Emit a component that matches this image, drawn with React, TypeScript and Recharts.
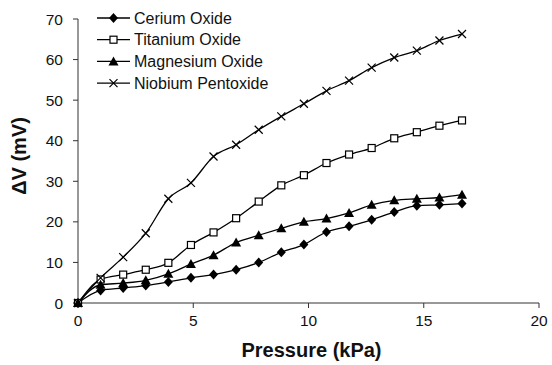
import { LineChart, Line, XAxis, YAxis, Label } from "recharts";

// pressure steps (kPa) and sensor response (mV) per oxide
const pressure = [0, 0.98, 1.96, 2.94, 3.92, 4.9, 5.88, 6.86, 7.84, 8.82, 9.8, 10.78, 11.76, 12.74, 13.72, 14.7, 15.68, 16.66];
const cerium = [0, 3.1, 3.7, 4.3, 5.2, 6.2, 7.0, 8.2, 10.0, 12.5, 14.4, 17.5, 18.9, 20.5, 22.4, 24.0, 24.2, 24.5];
const titanium = [0, 5.8, 7.0, 8.2, 9.9, 14.3, 17.4, 20.9, 25.0, 29.0, 31.5, 34.5, 36.6, 38.2, 40.6, 42.1, 43.7, 45.0];
const magnesium = [0, 4.5, 4.9, 5.6, 7.2, 9.6, 11.8, 14.9, 16.7, 18.4, 20.0, 20.8, 22.2, 24.2, 25.3, 25.7, 26.0, 26.7];
const niobium = [0, 6.2, 11.3, 17.2, 25.7, 29.6, 36.1, 39.0, 42.7, 46.0, 49.1, 52.3, 54.8, 58.0, 60.5, 62.2, 64.7, 66.3];

const seriesNames = ["Cerium Oxide", "Titanium Oxide", "Magnesium Oxide", "Niobium Pentoxide"];
const xTicks = [0, 5, 10, 15, 20];
const yTicks = [0, 10, 20, 30, 40, 50, 60, 70];

const rows = pressure.map((p, i) => ({
  p,
  cerium: cerium[i],
  titanium: titanium[i],
  magnesium: magnesium[i],
  niobium: niobium[i],
}));

const FONT = "'Liberation Sans', Arial, sans-serif";

function Marker({ kind, cx, cy }: { kind: string; cx: number; cy: number }) {
  if (kind === "diamond")
    return <path d={`M${cx},${cy - 5}L${cx + 4.5},${cy}L${cx},${cy + 5}L${cx - 4.5},${cy}Z`} fill="#000" />;
  if (kind === "square")
    return <rect x={cx - 3.5} y={cy - 3.5} width={7} height={7} fill="#fff" stroke="#000" strokeWidth={1.2} />;
  if (kind === "triangle")
    return <path d={`M${cx},${cy - 5}L${cx + 5},${cy + 4}L${cx - 5},${cy + 4}Z`} fill="#000" />;
  return (
    <path
      d={`M${cx - 4},${cy - 4}L${cx + 4},${cy + 4}M${cx - 4},${cy + 4}L${cx + 4},${cy - 4}`}
      stroke="#000"
      strokeWidth={1.2}
      fill="none"
    />
  );
}

const kinds = ["diamond", "square", "triangle", "cross"];
const keys = ["cerium", "titanium", "magnesium", "niobium"];

function dotFor(kind: string) {
  return (props: any) => {
    const { cx, cy, index } = props;
    if (cx == null || cy == null) return <g key={index} />;
    return <Marker key={`${kind}-${index}`} kind={kind} cx={cx} cy={cy} />;
  };
}

// legend drawn as an overlay so it doesn't eat plot space
function LegendBox() {
  return (
    <svg width={220} height={95} style={{ position: "absolute", left: 97, top: 0 }}>
      {seriesNames.map((name, i) => {
        const y = 18 + i * 21.7;
        return (
          <g key={name}>
            <line x1={0} x2={33} y1={y} y2={y} stroke="#000" strokeWidth={1.3} />
            <Marker kind={kinds[i]} cx={16.5} cy={y} />
            <text x={37} y={y + 5.5} fontSize={16} fontFamily={FONT} fill="#111">
              {name}
            </text>
          </g>
        );
      })}
    </svg>
  );
}

const tickStyle = { fontSize: 15.5, fontFamily: FONT, fill: "#111" };

function YTitle(props: any) {
  const vb = props.viewBox;
  const cy = vb.y + vb.height / 2 - 5;
  const x = 26;
  return (
    <text
      x={x}
      y={cy}
      transform={`rotate(-90, ${x}, ${cy})`}
      textAnchor="middle"
      fontSize={20}
      fontWeight="bold"
      fontFamily={FONT}
      fill="#111"
    >
      ΔV (mV)
    </text>
  );
}

export default function App() {
  return (
    <div style={{ position: "absolute", left: 0, top: 0, width: 552, height: 365, background: "#fff" }}>
      <LineChart width={552} height={365} data={rows} margin={{ top: 19, right: 13, bottom: 0, left: 0 }}>
        <XAxis
          dataKey="p"
          type="number"
          domain={[0, 20]}
          ticks={xTicks}
          height={62}
          axisLine={{ stroke: "#333", strokeWidth: 1 }}
          tickLine={{ stroke: "#333" }}
          tickSize={5}
          tickMargin={7}
          tick={tickStyle}
        >
          <Label
            value="Pressure (kPa)"
            position="insideBottom"
            offset={8}
            dx={3}
            style={{ fontSize: 20, fontWeight: "bold", fontFamily: FONT, fill: "#111" }}
          />
        </XAxis>
        <YAxis
          type="number"
          domain={[0, 70]}
          ticks={yTicks}
          width={78}
          axisLine={{ stroke: "#333", strokeWidth: 1 }}
          tickLine={{ stroke: "#333" }}
          tickSize={5}
          tickMargin={10}
          tick={tickStyle}
        >
          <Label content={<YTitle />} />
        </YAxis>
        {keys.map((k, i) => (
          <Line
            key={k}
            dataKey={k}
            name={seriesNames[i]}
            type="monotone"
            stroke="#000"
            strokeWidth={1.3}
            dot={dotFor(kinds[i])}
            activeDot={false}
            isAnimationActive={false}
          />
        ))}
      </LineChart>
      <LegendBox />
    </div>
  );
}
